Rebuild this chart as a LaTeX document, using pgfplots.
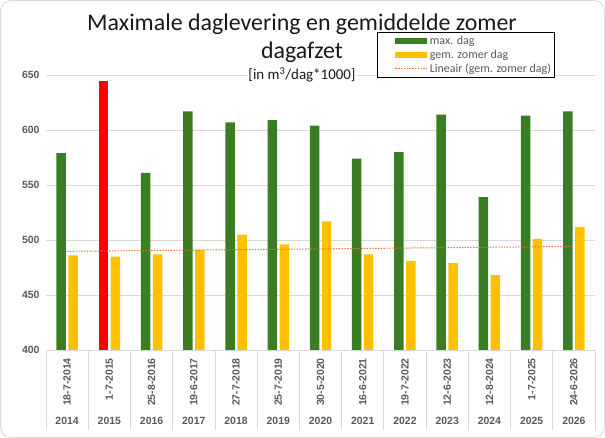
\documentclass[border=0pt]{standalone}
\usepackage{fontspec}
\setmainfont{Carlito}
\newfontfamily\tickfont{Liberation Sans}
\usepackage{pgfplots}
\usepackage{pgfplotstable}
\pgfplotsset{compat=1.18}
\definecolor{grn}{HTML}{3B7D23}
\definecolor{ylw}{HTML}{FFC000}
\definecolor{trendc}{HTML}{E97132}
\definecolor{txt}{HTML}{595959}
\definecolor{gridc}{HTML}{D9D9D9}

\pgfplotstableread{
x gem
0 486
1 485
2 487
3 491
4 505
5 496
6 517
7 487
8 481
9 479
10 468
11 501
12 512
}\gemdata

\begin{document}
\begin{tikzpicture}
\path[use as bounding box] (0bp,0bp) rectangle (605bp,438bp);
\draw[gridc, line width=0.8bp, rounded corners=10bp] (0.6bp,0.6bp) rectangle (604.4bp,437.4bp);
\node[anchor=base, font=\fontsize{24}{28}\selectfont, text=black!90] at (302bp,407bp) {Maximale daglevering en gemiddelde zomer};
\node[anchor=base, font=\fontsize{24}{28}\selectfont, text=black!90] at (302bp,379bp) {dagafzet};
\begin{axis}[
  at={(46bp,88bp)}, anchor=south west,
  scale only axis, width=549bp, height=275bp,
  xmin=-0.5, xmax=12.5, ymin=400, ymax=650,
  ybar, bar width=9.5bp,
  axis line style={draw=none},
  ymajorgrids, major grid style={gridc, line width=0.8bp},
  ytick={400,450,...,650},
  ytick pos=left, xtick pos=bottom,
  tick align=outside,
  major tick length=0pt,
  ytick style={draw=none},
  minor xtick={-0.5,0.5,...,12.5},
  minor tick length=80bp,
  minor x tick style={gridc, line width=0.8bp},
  yticklabel style={font=\tickfont\bfseries\fontsize{10.5}{12}\selectfont, text=txt, xshift=-3bp},
  /pgf/number format/assume math mode=true,
  xtick={0,...,12},
  xticklabels={
    \rotatebox{90}{18-7-2014},\rotatebox{90}{1-7-2015},\rotatebox{90}{25-8-2016},
    \rotatebox{90}{19-6-2017},\rotatebox{90}{27-7-2018},\rotatebox{90}{25-7-2019},
    \rotatebox{90}{30-5-2020},\rotatebox{90}{16-6-2021},\rotatebox{90}{19-7-2022},
    \rotatebox{90}{12-6-2023},\rotatebox{90}{12-8-2024},\rotatebox{90}{1-7-2025},
    \rotatebox{90}{24-6-2026}},
  xticklabel style={font=\tickfont\bfseries\fontsize{10.5}{12}\selectfont, text=txt, anchor=north, inner sep=0pt, yshift=-8bp},
  extra x ticks={0,...,12},
  extra x tick labels={2014,2015,2016,2017,2018,2019,2020,2021,2022,2023,2024,2025,2026},
  extra x tick style={major tick length=0pt, xticklabel style={yshift=-59bp}},
  legend style={at={(0.603,1.155)}, anchor=north west, draw=black, line width=0.6bp,
    fill=white, font=\fontsize{12}{12}\selectfont, text=txt, inner sep=1.5bp,
    row sep=0bp, cells={anchor=west}, legend cell align=left},
]
\addplot[fill=grn, draw=none, bar shift=-6bp,
  legend image code/.code={\path (0bp,0bp); \fill[grn] (16bp,-3bp) rectangle (48bp,3bp);}]
  coordinates {(0,579) (2,561) (3,617) (4,607) (5,609) (6,604) (7,574) (8,580) (9,614) (10,539) (11,613) (12,617)};
\addlegendentry{max. dag}
\addplot[fill=red, draw=none, bar shift=-6bp, forget plot] coordinates {(1,645)};
\addplot[fill=ylw, draw=none, bar shift=6bp,
  legend image code/.code={\path (0bp,0bp); \fill[ylw] (16bp,-3bp) rectangle (48bp,3bp);}]
  table[x=x, y=gem] {\gemdata};
\addlegendentry{gem. zomer dag}
\addplot[trendc, line width=1bp, dash pattern=on 1.4bp off 1.4bp, sharp plot, mark=none,
  legend image code/.code={\path (0bp,0bp); \draw[trendc, line width=1bp, dash pattern=on 1.4bp off 1.4bp] (16bp,0bp) -- (48bp,0bp);}]
  table[x=x, y={create col/linear regression={y=gem}}] {\gemdata};
\addlegendentry{Lineair (gem. zomer dag)\hspace{11bp}}
\end{axis}
\node[anchor=base, font=\fontsize{15}{17}\selectfont, fill=white, inner sep=1bp, text=black!90] at (302bp,358bp) {[in m\textsuperscript{3}/dag*1000]};
\end{tikzpicture}
\end{document}
